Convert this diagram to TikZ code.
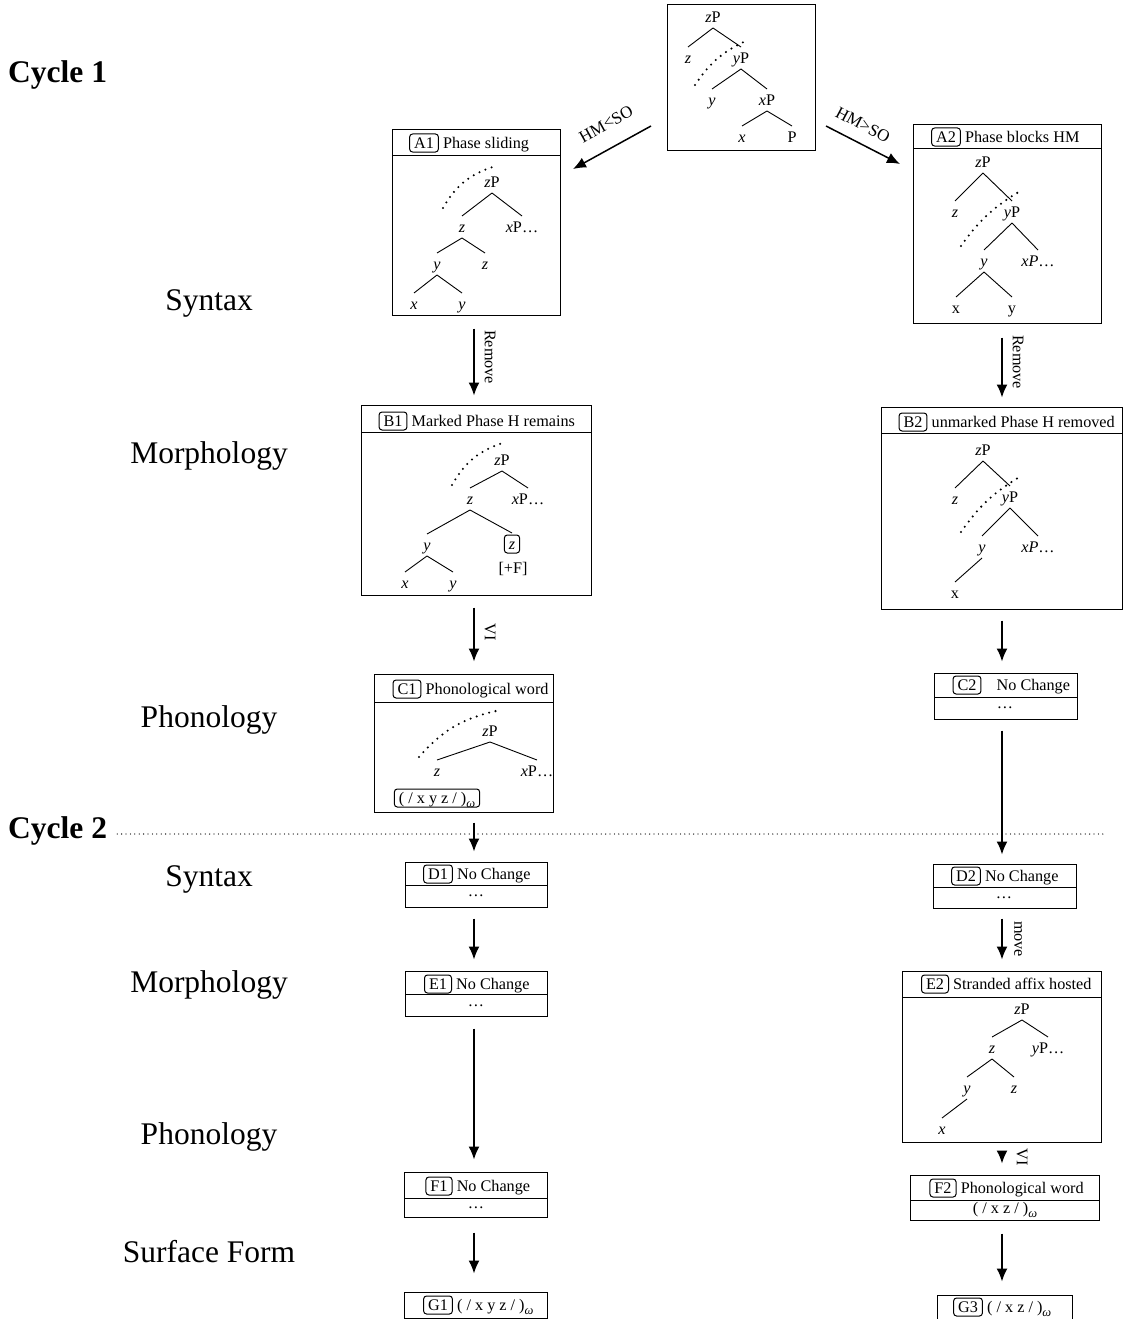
\documentclass[tikz,border=0pt]{standalone}
\usepackage{fontspec}
\setmainfont{Liberation Serif}
\usetikzlibrary{arrows.meta,calc,fit}
\newcommand{\smfont}{\fontsize{16.2}{19}\selectfont}
\newcommand{\lblfont}{\fontsize{31.5}{36}\selectfont}
\newcommand{\om}{\raisebox{-3.5pt}{\fontsize{12.5}{13}\selectfont\textit{ω}}}
\newcommand{\trEdge}[2]{\draw[trl] ($(#1)+(0,11)$) -- ($(#2)+(0,-11)$);}
\newcommand{\hdr}[5]{%
  \node[tag] (#1) at (#2,#3) {#4};
  \node[anchor=base west] (#1txt) at ($(#1.base east)+(4,0)$) {#5};}
\begin{document}
\begin{tikzpicture}[x=1pt,y=-1pt,
  every node/.style={font=\smfont, inner sep=0pt},
  frame/.style={draw, line width=1pt, inner sep=0pt},
  tag/.style={draw, rounded corners=3pt, inner xsep=4.5pt, inner ysep=3.5pt, text height=11pt, text depth=0pt, line width=1pt},
  tn/.style={text height=11pt, text depth=0pt},
  trl/.style={line width=0.9pt},
  dots/.style={line width=2.3pt, line cap=round, dash pattern=on 0pt off 6.5pt},
  arr/.style={-{Latex[length=13pt,width=11pt]}, line width=1.5pt},
  side/.style={font=\lblfont},
  cyc/.style={font=\bfseries\lblfont},
  divl/.style={line width=1pt}
]
\useasboundingbox (0,0) rectangle (1124,1319);

% ---------------- left labels ----------------
\node[cyc, anchor=west] (cyc1) at (8,75) {Cycle 1};
\node[cyc, anchor=west] (cyc2) at (8,831) {Cycle 2};
\draw[line width=1.3pt, line cap=round, dash pattern=on 0pt off 4.4pt] ($(cyc2.east)+(10,3)$) coordinate (sepA) -- (1105,834) coordinate (sepB);
\node[side] (s1) at (209,303) {Syntax};
\node[side] (m1) at (209,456) {Morphology};
\node[side] (p1) at (209,720) {Phonology};
\node[side] (s2) at (209,879) {Syntax};
\node[side] (m2) at (209,985) {Morphology};
\node[side] (p2) at (209,1137) {Phonology};
\node[side] (sf) at (209,1252) {Surface Form};

% ---------------- top tree ----------------
\node[frame, fit={(667,5) (815,150)}] (top) {};
\node[tn] (tzP) at (713,17) {\textit{z}P};
\node[tn] (tz) at (688,58) {\textit{z}};
\node[tn] (tyP) at (741,58) {\textit{y}P};
\node[tn] (ty) at (712,100) {\textit{y}};
\node[tn] (txP) at (767,100) {\textit{x}P};
\node[tn] (tx) at (742,137) {\textit{x}};
\node[tn] (tP) at (792,137) {P};
\trEdge{tzP}{tz}\trEdge{tzP}{tyP}\trEdge{tyP}{ty}\trEdge{tyP}{txP}\trEdge{txP}{tx}\trEdge{txP}{tP}
\coordinate (td1) at (695,85); \coordinate (td2) at (748,40);
\draw[dots] (td1) to[bend left=16] (td2);

% arrows from top
\coordinate (hl1) at (651,126); \coordinate (hl2) at (573,169);
\coordinate (hr1) at (826,126); \coordinate (hr2) at (900,164);
\draw[arr] (hl1) -- (hl2);
\draw[arr] (hr1) -- (hr2);
\node[rotate=29, font=\fontsize{17}{19}\selectfont] (lhl) at (606,124) {HM<SO};
\node[rotate=-28, font=\fontsize{17}{19}\selectfont] (lhr) at (863,125) {HM>SO};

% ---------------- A1 ----------------
\node[frame, fit={(392,130) (560,315)}] (A1) {};
\draw[divl] (392,155) -- (560,155);
\hdr{a1t}{424}{143}{A1}{Phase sliding}
\node[tn] (a1zP) at (492,182) {\textit{z}P};
\node[tn] (a1z) at (462,227) {\textit{z}};
\node[tn] (a1xP) at (522,227) {\textit{x}P\ldots};
\node[tn] (a1y) at (437,264) {\textit{y}};
\node[tn] (a1z2) at (485,264) {\textit{z}};
\node[tn] (a1x) at (414,304) {\textit{x}};
\node[tn] (a1y2) at (462,304) {\textit{y}};
\trEdge{a1zP}{a1z}\trEdge{a1zP}{a1xP}\trEdge{a1z}{a1y}\trEdge{a1z}{a1z2}\trEdge{a1y}{a1x}\trEdge{a1y}{a1y2}
\coordinate (a1d1) at (443,208); \coordinate (a1d2) at (496,166);
\draw[dots] (a1d1) to[bend left=22] (a1d2);

% ---------------- A2 ----------------
\node[frame, fit={(913,125) (1101,323)}] (A2) {};
\draw[divl] (913,148) -- (1101,148);
\hdr{a2t}{946}{137}{A2}{Phase blocks HM}
\node[tn] (a2zP) at (983,162) {\textit{z}P};
\node[tn] (a2z) at (955,212) {\textit{z}};
\node[tn] (a2yP) at (1012,212) {\textit{y}P};
\node[tn] (a2y) at (984,261) {\textit{y}};
\node[tn] (a2xP) at (1038,261) {\textit{xP}\ldots};
\node[tn] (a2x) at (956,308) {x};
\node[tn] (a2y2) at (1012,308) {y};
\trEdge{a2zP}{a2z}\trEdge{a2zP}{a2yP}\trEdge{a2yP}{a2y}\trEdge{a2yP}{a2xP}\trEdge{a2y}{a2x}\trEdge{a2y}{a2y2}
\coordinate (a2d1) at (961,246); \coordinate (a2d2) at (1022,190);
\draw[dots] (a2d1) to[bend left=12] (a2d2);

% ---------------- B1 ----------------
\node[frame, fit={(361,405) (591,595)}] (B1) {};
\draw[divl] (361,432) -- (591,432);
\hdr{b1t}{393}{421}{B1}{Marked Phase H remains}
\node[tn] (b1zP) at (502,460) {\textit{z}P};
\node[tn] (b1z) at (470,499) {\textit{z}};
\node[tn] (b1xP) at (528,499) {\textit{x}P\ldots};
\node[tn] (b1y) at (427,545) {\textit{y}};
\node[tag] (b1zb) at (512,544) {\textit{z}};
\node[tn] (b1F) at (513,568) {[+F]};
\node[tn] (b1x) at (405,583) {\textit{x}};
\node[tn] (b1y2) at (453,583) {\textit{y}};
\trEdge{b1zP}{b1z}\trEdge{b1zP}{b1xP}\trEdge{b1z}{b1y}\trEdge{b1z}{b1zb}\trEdge{b1y}{b1x}\trEdge{b1y}{b1y2}
\coordinate (b1d1) at (452,485); \coordinate (b1d2) at (506,442);
\draw[dots] (b1d1) to[bend left=22] (b1d2);

% ---------------- B2 ----------------
\node[frame, fit={(881,407) (1122,609)}] (B2) {};
\draw[divl] (881,433) -- (1122,433);
\hdr{b2t}{913}{422}{B2}{unmarked Phase H removed}
\node[tn] (b2zP) at (983,450) {\textit{z}P};
\node[tn] (b2z) at (955,499) {\textit{z}};
\node[tn] (b2yP) at (1010,497) {\textit{y}P};
\node[tn] (b2y) at (982,547) {\textit{y}};
\node[tn] (b2xP) at (1038,547) {\textit{xP}\ldots};
\node[tn] (b2x) at (955,593) {x};
\trEdge{b2zP}{b2z}\trEdge{b2zP}{b2yP}\trEdge{b2yP}{b2y}\trEdge{b2yP}{b2xP}\trEdge{b2y}{b2x}
\coordinate (b2d1) at (961,532); \coordinate (b2d2) at (1021,476);
\draw[dots] (b2d1) to[bend left=12] (b2d2);

% ---------------- C1 ----------------
\node[frame, fit={(374,674) (553,812)}] (C1) {};
\draw[divl] (374,702) -- (553,702);
\hdr{c1t}{407}{689}{C1}{Phonological word}
\node[tn] (c1zP) at (490,731) {\textit{z}P};
\node[tn] (c1z) at (437,771) {\textit{z}};
\node[tn] (c1xP) at (537,771) {\textit{x}P\ldots};
\trEdge{c1zP}{c1z}\trEdge{c1zP}{c1xP}
\coordinate (c1d1) at (419,757); \coordinate (c1d2) at (496,711);
\draw[dots] (c1d1) to[bend left=18] (c1d2);
\node[tag] (c1w) at (437,798) {( / x y z / )\om};

% ---------------- C2 ----------------
\node[frame, fit={(934,673) (1077,719)}] (C2) {};
\draw[divl] (934,697) -- (1077,697);
\node[tag] (c2t) at (967,685) {C2};
\node[anchor=base west] (c2ttxt) at ($(c2t.base east)+(15,0)$) {No Change};
\node (c2dots) at (1005,708) {\ldots};

% ---------------- D1, D2, E1 ----------------
\node[frame, fit={(405,862) (547,907)}] (D1) {};
\draw[divl] (405,885) -- (547,885);
\hdr{d1t}{438}{874}{D1}{No Change}
\node (d1dots) at (476,896) {\ldots};

\node[frame, fit={(933,864) (1076,908)}] (D2) {};
\draw[divl] (933,887) -- (1076,887);
\hdr{d2t}{966}{876}{D2}{No Change}
\node (d2dots) at (1004,898) {\ldots};

\node[frame, fit={(405,971) (547,1016)}] (E1) {};
\draw[divl] (405,994) -- (547,994);
\hdr{e1t}{438}{984}{E1}{No Change}
\node (e1dots) at (476,1006) {\ldots};

% ---------------- E2 ----------------
\node[frame, fit={(902,971) (1101,1142)}] (E2) {};
\draw[divl] (902,997) -- (1101,997);
\hdr{e2t}{935}{984}{E2}{Stranded affix hosted}
\node[tn] (e2zP) at (1022,1009) {\textit{z}P};
\node[tn] (e2z) at (992,1048) {\textit{z}};
\node[tn] (e2yP) at (1048,1048) {\textit{y}P\ldots};
\node[tn] (e2y) at (967,1088) {\textit{y}};
\node[tn] (e2z2) at (1014,1088) {\textit{z}};
\node[tn] (e2x) at (942,1129) {\textit{x}};
\trEdge{e2zP}{e2z}\trEdge{e2zP}{e2yP}\trEdge{e2z}{e2y}\trEdge{e2z}{e2z2}\trEdge{e2y}{e2x}

% ---------------- F1, F2, G1, G3 ----------------
\node[frame, fit={(404,1172) (547,1217)}] (F1) {};
\draw[divl] (404,1198) -- (547,1198);
\hdr{f1t}{439}{1186}{F1}{No Change}
\node (f1dots) at (476,1208) {\ldots};

\node[frame, fit={(910,1175) (1099,1220)}] (F2) {};
\draw[divl] (910,1200) -- (1099,1200);
\hdr{f2t}{943}{1188}{F2}{Phonological word}
\node (f2row) at (1005,1210) {( / x z / )\om};

\node[frame, fit={(404,1292) (547,1318)}] (G1) {};
\hdr{g1t}{438}{1305}{G1}{( / x y z / )\om}

\node[frame, fit={(937,1295) (1072,1326)}] (G3) {};
\hdr{g3t}{968}{1307}{G3}{( / x z / )\om}

% ---------------- vertical arrows ----------------
\coordinate (colL) at (474,0);
\coordinate (colR) at (1002,0);
\draw[arr] ($(A1.south -| colL)+(0,13)$) -- ($(B1.north -| colL)+(0,-9)$);
\node[rotate=-90] (lrem1) at (490,357) {Remove};
\draw[arr] ($(A2.south -| colR)+(0,14)$) -- ($(B2.north -| colR)+(0,-9)$);
\node[rotate=-90] (lrem2) at (1018,362) {Remove};
\draw[arr] ($(B1.south -| colL)+(0,12)$) -- ($(C1.north -| colL)+(0,-12)$);
\node[rotate=-90] (lvi1) at (490,632) {VI};
\draw[arr] ($(B2.south -| colR)+(0,11)$) -- ($(C2.north -| colR)+(0,-11)$);
\draw[arr] ($(C1.south -| colL)+(0,10)$) -- ($(D1.north -| colL)+(0,-10)$);
\draw[arr] ($(C2.south -| colR)+(0,11)$) -- ($(D2.north -| colR)+(0,-9)$);
\draw[arr] ($(D1.south -| colL)+(0,11)$) -- ($(E1.north -| colL)+(0,-11)$);
\draw[arr] ($(D2.south -| colR)+(0,10)$) -- ($(E2.north -| colR)+(0,-11)$);
\node[rotate=-90] (lmove) at (1018,939) {move};
\draw[arr] ($(E1.south -| colL)+(0,12)$) -- ($(F1.north -| colL)+(0,-12)$);
\draw[arr] ($(E2.south -| colR)+(0,9)$) -- ($(F2.north -| colR)+(0,-11)$);
\node[rotate=-90] (lvi2) at (1022,1157) {VI};
\draw[arr] ($(F1.south -| colL)+(0,15)$) -- ($(G1.north -| colL)+(0,-18)$);
\draw[arr] ($(F2.south -| colR)+(0,13)$) -- ($(G3.north -| colR)+(0,-13)$);
\end{tikzpicture}
\end{document}
